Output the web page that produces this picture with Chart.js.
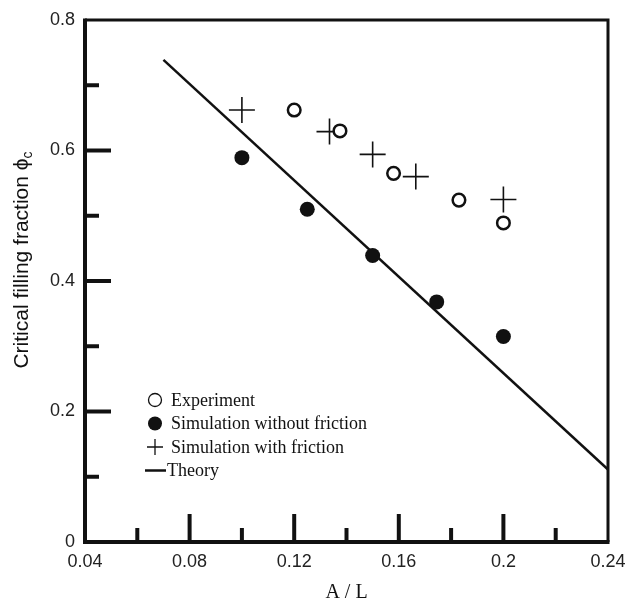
<!DOCTYPE html>
<html>
<head>
<meta charset="utf-8">
<script src="https://cdn.jsdelivr.net/npm/chart.js@4"></script>
<style>
  html, body { margin: 0; padding: 0; background: #fff; }
  #wrap { width: 631px; height: 605px; }
</style>
</head>
<body>
<div id="wrap"><canvas id="myCanvas" width="631" height="605"></canvas></div>
<script>
// data
var expX = [0.120, 0.1375, 0.158, 0.183, 0.200];
var expY = [0.662, 0.630, 0.565, 0.524, 0.489];
var noFricX = [0.100, 0.125, 0.150, 0.1745, 0.200];
var noFricY = [0.589, 0.510, 0.439, 0.368, 0.315];
var fricX = [0.100, 0.1335, 0.150, 0.1665, 0.200];
var fricY = [0.662, 0.629, 0.594, 0.560, 0.525];
var theoryX = [0.070, 0.240];
var theoryY = [0.739, 0.111];

var xTicks = [0.04, 0.08, 0.12, 0.16, 0.2, 0.24];
var xTickLabels = ['0.04', '0.08', '0.12', '0.16', '0.2', '0.24'];
var yTicks = [0, 0.2, 0.4, 0.6, 0.8];
var yTickLabels = ['0', '0.2', '0.4', '0.6', '0.8'];
var xMinor = [0.06, 0.10, 0.14, 0.18, 0.22];
var yMinor = [0.1, 0.3, 0.5, 0.7];

var legendLabels = ['Experiment', 'Simulation without friction', 'Simulation with friction', 'Theory'];

function pts(xs, ys){
  return xs.map(function(x, i){ return {x: x, y: ys[i]}; });
}

var ink = '#111';

// frame, inward ticks, legend and y title
var decor = {
  id: 'decor',
  afterDraw: function(chart){
    var ctx = chart.ctx;
    var a = chart.chartArea;
    var xs = chart.scales.x, ys = chart.scales.y;
    ctx.save();
    ctx.strokeStyle = ink;
    ctx.lineCap = 'butt';

    // ticks
    ctx.lineWidth = 4;
    xTicks.slice(1, -1).forEach(function(v){
      var px = xs.getPixelForValue(v);
      ctx.beginPath(); ctx.moveTo(px, a.bottom); ctx.lineTo(px, a.bottom - 28); ctx.stroke();
    });
    xMinor.forEach(function(v){
      var px = xs.getPixelForValue(v);
      ctx.beginPath(); ctx.moveTo(px, a.bottom); ctx.lineTo(px, a.bottom - 14); ctx.stroke();
    });
    yTicks.slice(1, -1).forEach(function(v){
      var py = ys.getPixelForValue(v);
      ctx.beginPath(); ctx.moveTo(a.left, py); ctx.lineTo(a.left + 26, py); ctx.stroke();
    });
    yMinor.forEach(function(v){
      var py = ys.getPixelForValue(v);
      ctx.beginPath(); ctx.moveTo(a.left, py); ctx.lineTo(a.left + 14, py); ctx.stroke();
    });

    // frame
    ctx.lineWidth = 3;
    ctx.beginPath();
    ctx.moveTo(a.left, a.top); ctx.lineTo(a.right, a.top); ctx.lineTo(a.right, a.bottom);
    ctx.stroke();
    ctx.lineWidth = 4;
    ctx.beginPath();
    ctx.moveTo(a.left, a.top - 1.5); ctx.lineTo(a.left, a.bottom); ctx.lineTo(a.right + 1.5, a.bottom);
    ctx.stroke();

    // legend
    ctx.font = '18px "Liberation Serif", "Times New Roman", serif';
    ctx.textBaseline = 'middle';
    ctx.textAlign = 'left';
    ctx.fillStyle = ink;
    var lx = 155, ly = 400, step = 23.5;
    legendLabels.forEach(function(t, i){
      var y = ly + i * step;
      ctx.lineWidth = 1.3;
      if (i === 0) {
        ctx.beginPath(); ctx.arc(lx, y, 6.5, 0, Math.PI * 2); ctx.stroke();
      } else if (i === 1) {
        ctx.beginPath(); ctx.arc(lx, y, 7, 0, Math.PI * 2); ctx.fill();
      } else if (i === 2) {
        ctx.beginPath();
        ctx.moveTo(lx - 8, y); ctx.lineTo(lx + 8, y);
        ctx.moveTo(lx, y - 8); ctx.lineTo(lx, y + 8);
        ctx.stroke();
      } else {
        ctx.lineWidth = 2.5;
        ctx.beginPath(); ctx.moveTo(lx - 10, y); ctx.lineTo(lx + 11, y); ctx.stroke();
      }
      ctx.fillText(t, i === 3 ? 167 : 171, y + 1);
    });

    // y title with subscript
    ctx.translate(22, 260);
    ctx.rotate(-Math.PI / 2);
    var main = 'Critical filling fraction \u03D5';
    ctx.font = '21px "Liberation Sans", Arial, sans-serif';
    var w1 = ctx.measureText(main).width;
    ctx.font = '14px "Liberation Sans", Arial, sans-serif';
    var w2 = ctx.measureText('c').width;
    var start = -(w1 + w2) / 2;
    ctx.textAlign = 'left';
    ctx.font = '21px "Liberation Sans", Arial, sans-serif';
    ctx.fillText(main, start, 0);
    ctx.font = '14px "Liberation Sans", Arial, sans-serif';
    ctx.fillText('c', start + w1, 6);
    ctx.restore();
  }
};

var ctx = document.getElementById('myCanvas').getContext('2d');
var chart = new Chart(ctx, {
  type: 'scatter',
  data: {
    datasets: [
      {
        label: legendLabels[0],
        data: pts(expX, expY),
        pointStyle: 'circle',
        pointRadius: 6.3,
        pointBackgroundColor: '#fff',
        pointBorderColor: ink,
        pointBorderWidth: 2.5
      },
      {
        label: legendLabels[1],
        data: pts(noFricX, noFricY),
        pointStyle: 'circle',
        pointRadius: 7.5,
        pointBackgroundColor: ink,
        pointBorderColor: ink,
        pointBorderWidth: 0
      },
      {
        label: legendLabels[2],
        data: pts(fricX, fricY),
        pointStyle: 'cross',
        pointRadius: 13,
        pointBorderColor: ink,
        pointBorderWidth: 1.6
      },
      {
        label: legendLabels[3],
        data: pts(theoryX, theoryY),
        showLine: true,
        pointRadius: 0,
        borderColor: ink,
        borderWidth: 2.5,
        fill: false
      }
    ]
  },
  options: {
    responsive: false,
    animation: false,
    events: [],
    layout: { padding: { top: 20, right: 23, left: 0, bottom: 0 } },
    plugins: {
      legend: { display: false },
      tooltip: { enabled: false }
    },
    scales: {
      x: {
        type: 'linear',
        min: 0.04,
        max: 0.24,
        grid: { display: false, drawTicks: false },
        border: { display: false },
        afterBuildTicks: function(s){ s.ticks = xTicks.map(function(v){ return {value: v}; }); },
        afterFit: function(s){ s.height = 63; s.paddingRight = 0; s.paddingLeft = 0; },
        ticks: {
          padding: 9,
          maxRotation: 0,
          color: '#222',
          font: { family: '"Liberation Sans", Arial, sans-serif', size: 18 },
          callback: function(v, i){ return xTickLabels[i]; }
        },
        title: {
          display: true,
          text: 'A / L',
          color: '#111',
          padding: { top: 6, bottom: 0 },
          font: { family: '"Liberation Serif", "Times New Roman", serif', size: 20 }
        }
      },
      y: {
        type: 'linear',
        min: 0,
        max: 0.8,
        grid: { display: false, drawTicks: false },
        border: { display: false },
        afterBuildTicks: function(s){ s.ticks = yTicks.map(function(v){ return {value: v}; }); },
        afterFit: function(s){ s.width = 85; s.paddingTop = 0; s.paddingBottom = 0; },
        ticks: {
          padding: 10,
          color: '#222',
          font: { family: '"Liberation Sans", Arial, sans-serif', size: 18 },
          callback: function(v, i){ return yTickLabels[i]; }
        }
      }
    }
  },
  plugins: [decor]
});
</script>
</body>
</html>
